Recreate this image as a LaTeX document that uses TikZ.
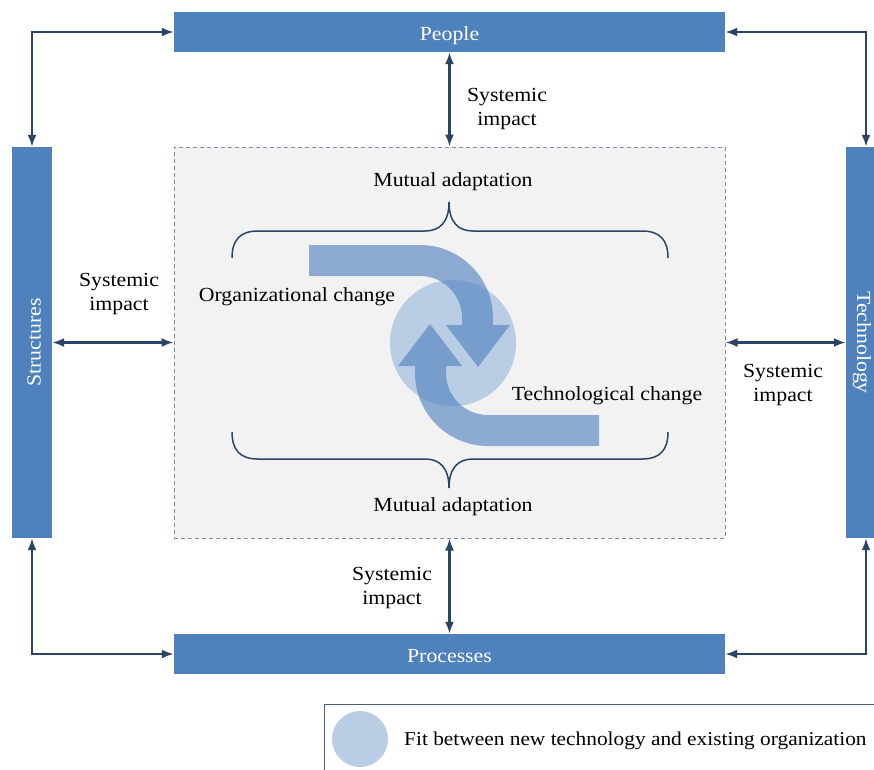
\documentclass[tikz,border=0pt]{standalone}
\usepackage{fontspec}
\setmainfont{Liberation Serif}[FakeStretch=1.09]
\usetikzlibrary{arrows.meta}
\definecolor{boxblue}{HTML}{4F81BD}
\definecolor{navy}{HTML}{2A4468}
\definecolor{bgray}{HTML}{F2F2F2}
\definecolor{dashc}{HTML}{7C8CA4}
\definecolor{fitc}{HTML}{B9CDE5}
\definecolor{legc}{HTML}{47617F}
\tikzset{
  bluebox/.style={draw=none, fill=boxblue, text=white, inner sep=0pt, font=\fontsize{20}{23}\selectfont, text height=16pt, text depth=0pt},
  conn/.style={draw=navy, line width=2.2pt, {Latex[length=12pt,width=9pt]}-{Latex[length=12pt,width=9pt]}},
  lbl/.style={align=center, font=\fontsize{20}{24}\selectfont, text=black},
  chgarrow/.style={fill=boxblue, fill opacity=0.62, draw=none},
  brace/.style={draw=navy, line width=1.5pt},
}
\begin{document}
\begin{tikzpicture}[x=1pt,y=-1pt]
\useasboundingbox (0,0) rectangle (874,769);
% main boxes
\node[bluebox, minimum width=551pt, minimum height=40pt] (people) at (449.5,32) {People};
\node[bluebox, minimum width=551pt, minimum height=40pt] (processes) at (449.5,654) {Processes};
\node[bluebox, minimum width=40pt, minimum height=391pt] (structures) at (32,342.5) {};
\node[bluebox, minimum width=40pt, minimum height=391pt] (technology) at (866,342.5) {};
\node[text=white, rotate=90, font=\fontsize{20}{23}\selectfont] (structlbl) at (34,342.5) {Structures};
\node[text=white, rotate=-90, font=\fontsize{20}{23}\selectfont] (techlbl) at (862,342.5) {Technology};
\node[draw=dashc, dashed, dash pattern=on 4pt off 3pt, line width=1pt, fill=bgray, minimum width=551pt, minimum height=391pt, inner sep=0pt] (center) at (449.5,342.5) {};

% systemic impact connectors
\draw[conn] (people.south) -- (center.north);
\draw[conn] (processes.north) -- (center.south);
\draw[conn] (structures.east) -- (center.west);
\draw[conn] (technology.west) -- (center.east);
% corner connectors
\draw[conn] (people.west) -| (structures.north);
\draw[conn] (people.east) -| (technology.north);
\draw[conn] (processes.west) -| (structures.south);
\draw[conn] (processes.east) -| (technology.south);

% labels
\node[lbl] (si1) at (507,109) {Systemic\\impact};
\node[lbl] (si2) at (119,294) {Systemic\\impact};
\node[lbl] (si3) at (783,385) {Systemic\\impact};
\node[lbl] (si4) at (392,588) {Systemic\\impact};

\node[lbl] (ma1) at (453,182) {Mutual adaptation};
\node[lbl] (ma2) at (453,507) {Mutual adaptation};

% braces
\draw[brace] (232,258) .. controls (232,240) and (240,231) .. (258,231) -- (425,231)
  .. controls (440,231) and (449,222) .. (449,202)
  .. controls (449,222) and (458,231) .. (473,231) -- (642,231)
  .. controls (660,231) and (668,240) .. (668,258);
\draw[brace] (232,432) .. controls (232,450) and (240,459) .. (258,459) -- (425,459)
  .. controls (440,459) and (449,468) .. (449,488)
  .. controls (449,468) and (458,459) .. (473,459) -- (642,459)
  .. controls (660,459) and (668,450) .. (668,432);

% fit circle
\fill[fitc] (453,343) circle[radius=63];
% change arrows
\fill[chgarrow] (309,245) -- (420,245) .. controls (460.3,245) and (493,277.7) .. (493,318)
  -- (493,325) -- (510,325) -- (478,367) -- (446,325) -- (462,325) -- (462,318)
  .. controls (462,294.8) and (443.2,276) .. (420,276) -- (309,276) -- cycle;
\fill[chgarrow] (599,446) -- (488,446) .. controls (447.7,446) and (415,413.3) .. (415,373)
  -- (415,366) -- (398,366) -- (430,324) -- (462,366) -- (446,366) -- (446,373)
  .. controls (446,396.2) and (464.8,415) .. (488,415) -- (599,415) -- cycle;

\node[lbl] (orgchg) at (297,297) {Organizational change};
\node[lbl] (techchg) at (607,396) {Technological change};

% legend
\draw[legc, line width=1pt] (324,780) -- (324,704) -- (890,704);
\fill[fitc] (360,739) circle[radius=28];
\node[lbl, anchor=west, inner sep=0pt, font=\fontsize{19.6}{23}\selectfont] (leg) at (404,741) {Fit between new technology and existing organization};
\end{tikzpicture}
\end{document}
